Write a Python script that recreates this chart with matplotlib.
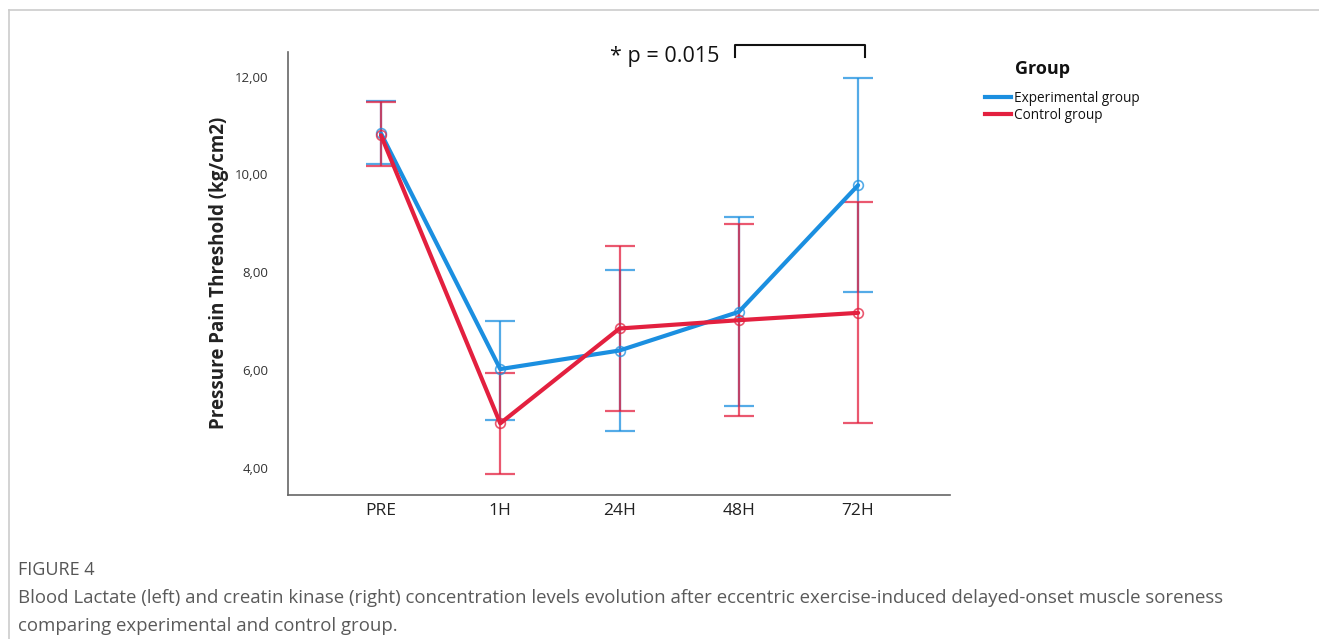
import matplotlib
matplotlib.use("Agg")
import matplotlib.pyplot as plt
from matplotlib.lines import Line2D

categories = ["PRE", "1H", "24H", "48H", "72H"]
exp_mean = [10.84, 6.02, 6.40, 7.19, 9.78]
exp_low = [10.22, 4.98, 4.76, 5.27, 7.59]
exp_high = [11.51, 7.00, 8.05, 9.13, 11.98]
ctl_mean = [10.80, 4.91, 6.85, 7.02, 7.17]
ctl_low = [10.18, 3.87, 5.16, 5.06, 4.92]
ctl_high = [11.49, 5.94, 8.53, 8.99, 9.43]
yticks = [4, 6, 8, 10, 12]
ytick_labels = ["4,00", "6,00", "8,00", "10,00", "12,00"]
series_names = ["Experimental group", "Control group"]

blue = "#1b8fe0"
red = "#e3203f"

W, H = 1319, 639
plt.rcParams['font.family'] = ['Open Sans', 'DejaVu Sans']
fig = plt.figure(figsize=(W / 100, H / 100), dpi=100)
ax = fig.add_axes([0.2183, 0.2254, 0.7202 - 0.2183, 0.9191 - 0.2254])

x = list(range(len(categories)))
for mean, low, high, col, z in [(exp_mean, exp_low, exp_high, blue, 2),
                                (ctl_mean, ctl_low, ctl_high, red, 3)]:
    yerr = [[m - l for m, l in zip(mean, low)], [h - m for m, h in zip(mean, high)]]
    ax.errorbar(x, mean, yerr=yerr, fmt='none', ecolor=col, alpha=0.75,
                elinewidth=1.6, capsize=10.5, capthick=1.6, zorder=z)
    ax.plot(x, mean, color=col, lw=3, zorder=z + 2, solid_capstyle='round')
    ax.plot(x, mean, 'o', mfc='none', mec=col, ms=7, mew=1.2, alpha=0.75, zorder=z + 2)

ax.set_xlim(-0.78, 4.77)
ax.set_ylim(3.446, 12.51)
ax.set_xticks(x)
ax.set_xticklabels(categories, fontsize=12.5, color="#222222")
ax.set_yticks(yticks)
ax.set_yticklabels(ytick_labels, fontsize=9.5, color="#333333")
ax.tick_params(length=0, pad=6)
ax.tick_params(axis='y', pad=14)
for s in ["top", "right"]:
    ax.spines[s].set_visible(False)
for s in ["left", "bottom"]:
    ax.spines[s].set_color("#666666")
    ax.spines[s].set_linewidth(1.2)

ax.set_ylabel("Pressure Pain Threshold (kg/cm2)", fontsize=13.5, fontweight='bold',
              color="#222222", labelpad=4)

# significance bracket
ax.plot([2.97, 2.97, 4.06, 4.06], [12.40, 12.65, 12.65, 12.40], color="#111111",
        lw=1.5, clip_on=False)
ax.text(2.84, 12.42, "* p = 0.015", fontsize=15.5, ha='right', va='center',
        color="#111111", clip_on=False)

# legend
fig.text(1043 / W, 1 - 69 / H, "Group", fontsize=13, fontweight='bold', ha='center',
         va='center', color="#111111")
handles = [Line2D([0], [0], color=blue, lw=3), Line2D([0], [0], color=red, lw=3)]
leg = fig.legend(handles, series_names, loc='upper left', bbox_to_anchor=(985 / W, 1 - 91 / H),
                 frameon=False, fontsize=9.8, handlelength=1.9, borderaxespad=0,
                 borderpad=0, handletextpad=0.25, labelspacing=0.12)
for t in leg.get_texts():
    t.set_color("#111111")

# caption
fig.text(18 / W, 1 - 570 / H, "FIGURE 4", fontsize=13, color="#555555", va='center')
fig.text(18 / W, 1 - 598 / H,
         "Blood Lactate (left) and creatin kinase (right) concentration levels evolution after eccentric exercise-induced delayed-onset muscle soreness",
         fontsize=13.4, color="#5a5a5a", va='center')
fig.text(18 / W, 1 - 626 / H, "comparing experimental and control group.",
         fontsize=13.4, color="#5a5a5a", va='center')

# frame lines
fig.add_artist(Line2D([9 / W, 9 / W], [0, 1 - 10 / H], color="#cccccc", lw=1.2))
fig.add_artist(Line2D([9 / W, 1], [1 - 10 / H, 1 - 10 / H], color="#cccccc", lw=1.2))

fig.savefig("out.png", dpi=100)
